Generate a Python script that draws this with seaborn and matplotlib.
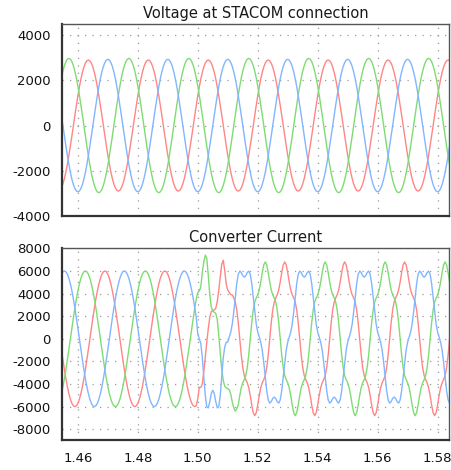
import numpy as np
import pandas as pd
import matplotlib
matplotlib.use("Agg")
import matplotlib.pyplot as plt
import seaborn as sns

t_start = 1.4545
t_step = 0.0005

volt_green = [
    2100, 2403, 2646, 2825, 2933,
    2970, 2933, 2825, 2646, 2403, 2100, 1746, 1348, 918, 465, 0, -465, -918, -1348, -1746, -2100, -2403, -2646, -2825, -2933,
    -2970, -2933, -2825, -2646, -2403, -2100, -1746, -1348, -918, -465, 0, 465, 918, 1348, 1746, 2100, 2403, 2646, 2825, 2933,
    2970, 2933, 2825, 2646, 2403, 2100, 1746, 1348, 918, 465, 0, -465, -918, -1348, -1746, -2100, -2403, -2646, -2825, -2933,
    -2970, -2933, -2825, -2646, -2403, -2100, -1746, -1348, -918, -465, 0, 465, 918, 1348, 1746, 2100, 2403, 2646, 2825, 2933,
    2970, 2933, 2825, 2646, 2403, 2100, 1746, 1348, 918, 465, 0, -465, -918, -1348, -1746, -2100, -2403, -2646, -2825, -2933,
    -2970, -2933, -2825, -2646, -2403, -2100, -1746, -1348, -918, -465, 0, 465, 918, 1348, 1746, 2100, 2403, 2646, 2825, 2933,
    2970, 2933, 2825, 2646, 2403, 2100, 1746, 1348, 918, 465, 0, -465, -918, -1348, -1746, -2100, -2403, -2646, -2825, -2933,
    -2970, -2933, -2825, -2646, -2403, -2100, -1746, -1348, -918, -465, 0, 465, 918, 1348, 1746, 2100, 2403, 2646, 2825, 2933,
    2970, 2933, 2825, 2646, 2403, 2100, 1746, 1348, 918, 465, 0, -465, -918, -1348, -1746, -2100, -2403, -2646, -2825, -2933,
    -2970, -2933, -2825, -2646, -2403, -2100, -1746, -1348, -918, -465, 0, 465, 918, 1348, 1746, 2100, 2403, 2646, 2825, 2933,
    2970, 2933, 2825, 2646, 2403, 2100, 1746, 1348, 918, 465, 0, -465, -918, -1348, -1746, -2100, -2403, -2646, -2825, -2933,
    -2970, -2933, -2825, -2646, -2403, -2100, -1746, -1348, -918, -465, 0, 465, 918, 1348, 1746, 2100, 2403, 2646, 2825, 2933,
    2970, 2933, 2825, 2646, 2403, 2100, 1746, 1348, 918, 465, 0, -465, -918, -1348, -1746,
]

volt_red = [
    -2758, -2584, -2346, -2051, -1705, -1317, -896, -454, 0, 454, 896, 1317, 1705, 2051, 2346, 2584, 2758, 2864,
    2900, 2864, 2758, 2584, 2346, 2051, 1705, 1317, 896, 454, 0, -454, -896, -1317, -1705, -2051, -2346, -2584, -2758, -2864,
    -2900, -2864, -2758, -2584, -2346, -2051, -1705, -1317, -896, -454, 0, 454, 896, 1317, 1705, 2051, 2346, 2584, 2758, 2864,
    2900, 2864, 2758, 2584, 2346, 2051, 1705, 1317, 896, 454, 0, -454, -896, -1317, -1705, -2051, -2346, -2584, -2758, -2864,
    -2900, -2864, -2758, -2584, -2346, -2051, -1705, -1317, -896, -454, 0, 454, 896, 1317, 1705, 2051, 2346, 2584, 2758, 2864,
    2900, 2864, 2758, 2584, 2346, 2051, 1705, 1317, 896, 454, 0, -454, -896, -1317, -1705, -2051, -2346, -2584, -2758, -2864,
    -2900, -2864, -2758, -2584, -2346, -2051, -1705, -1317, -896, -454, 0, 454, 896, 1317, 1705, 2051, 2346, 2584, 2758, 2864,
    2900, 2864, 2758, 2584, 2346, 2051, 1705, 1317, 896, 454, 0, -454, -896, -1317, -1705, -2051, -2346, -2584, -2758, -2864,
    -2900, -2864, -2758, -2584, -2346, -2051, -1705, -1317, -896, -454, 0, 454, 896, 1317, 1705, 2051, 2346, 2584, 2758, 2864,
    2900, 2864, 2758, 2584, 2346, 2051, 1705, 1317, 896, 454, 0, -454, -896, -1317, -1705, -2051, -2346, -2584, -2758, -2864,
    -2900, -2864, -2758, -2584, -2346, -2051, -1705, -1317, -896, -454, 0, 454, 896, 1317, 1705, 2051, 2346, 2584, 2758, 2864,
    2900, 2864, 2758, 2584, 2346, 2051, 1705, 1317, 896, 454, 0, -454, -896, -1317, -1705, -2051, -2346, -2584, -2758, -2864,
    -2900, -2864, -2758, -2584, -2346, -2051, -1705, -1317, -896, -454, 0, 454, 896, 1317, 1705, 2051, 2346, 2584, 2758, 2864,
    2900, 2864,
]

volt_blue = [
    458, 0, -458, -905, -1330, -1722, -2072, -2370, -2611, -2787, -2894,
    -2930, -2894, -2787, -2611, -2370, -2072, -1722, -1330, -905, -458, 0, 458, 905, 1330, 1722, 2072, 2370, 2611, 2787, 2894,
    2930, 2894, 2787, 2611, 2370, 2072, 1722, 1330, 905, 458, 0, -458, -905, -1330, -1722, -2072, -2370, -2611, -2787, -2894,
    -2930, -2894, -2787, -2611, -2370, -2072, -1722, -1330, -905, -458, 0, 458, 905, 1330, 1722, 2072, 2370, 2611, 2787, 2894,
    2930, 2894, 2787, 2611, 2370, 2072, 1722, 1330, 905, 458, 0, -458, -905, -1330, -1722, -2072, -2370, -2611, -2787, -2894,
    -2930, -2894, -2787, -2611, -2370, -2072, -1722, -1330, -905, -458, 0, 458, 905, 1330, 1722, 2072, 2370, 2611, 2787, 2894,
    2930, 2894, 2787, 2611, 2370, 2072, 1722, 1330, 905, 458, 0, -458, -905, -1330, -1722, -2072, -2370, -2611, -2787, -2894,
    -2930, -2894, -2787, -2611, -2370, -2072, -1722, -1330, -905, -458, 0, 458, 905, 1330, 1722, 2072, 2370, 2611, 2787, 2894,
    2930, 2894, 2787, 2611, 2370, 2072, 1722, 1330, 905, 458, 0, -458, -905, -1330, -1722, -2072, -2370, -2611, -2787, -2894,
    -2930, -2894, -2787, -2611, -2370, -2072, -1722, -1330, -905, -458, 0, 458, 905, 1330, 1722, 2072, 2370, 2611, 2787, 2894,
    2930, 2894, 2787, 2611, 2370, 2072, 1722, 1330, 905, 458, 0, -458, -905, -1330, -1722, -2072, -2370, -2611, -2787, -2894,
    -2930, -2894, -2787, -2611, -2370, -2072, -1722, -1330, -905, -458, 0, 458, 905, 1330, 1722, 2072, 2370, 2611, 2787, 2894,
    2930, 2894, 2787, 2611, 2370, 2072, 1722, 1330, 905, 458, 0, -458, -905, -1330, -1722, -2072, -2370, -2611, -2787, -2894,
    -2930, -2894, -2787, -2611, -2370, -2072, -1722, -1330, -905,
]

curr_green = [
    -4854, -4243, -3527, -2724, -1854, -939, 0, 939, 1854, 2724, 3527, 4243, 4854, 5346, 5706, 5926,
    6000, 5926, 5706, 5346, 4854, 4243, 3527, 2724, 1854, 939, 0, -939, -1854, -2724, -3527, -4243, -4854, -5346, -5706, -5926,
    -6000, -5926, -5706, -5346, -4854, -4243, -3527, -2724, -1854, -939, 0, 939, 1854, 2724, 3527, 4243, 4854, 5346, 5706, 5926,
    6000, 5926, 5706, 5346, 4854, 4243, 3527, 2724, 1854, 939, 0, -939, -1854, -2724, -3527, -4243, -4854, -5346, -5706, -5926,
    -6000, -5926, -5706, -5346, -4854, -4243, -3527, -2724, -1854, -939, 0, 939, 1854, 2724, 3527,
    4084, 4225, 4596, 5849, 6800, 7400, 7100, 5600, 3900, 2800, 2450, 2350, 2250, 1700, 300, -1300, -2700, -3700, -4200, -4350,
    -4400, -4500, -4900, -5600, -6100, -6400, -6200, -5849, -5020, -4325, -3889, -3615, -3252, -2550, -1422, 0, 1422, 2550, 3252, 3615, 3889, 4325, 5020, 5849, 6534,
    6800, 6534, 5849, 5020, 4325, 3889, 3615, 3252, 2550, 1422, 0, -1422, -2550, -3252, -3615, -3889, -4325, -5020, -5849, -6534,
    -6800, -6534, -5849, -5020, -4325, -3889, -3615, -3252, -2550, -1422, 0, 1422, 2550, 3252, 3615, 3889, 4325, 5020, 5849, 6534,
    6800, 6534, 5849, 5020, 4325, 3889, 3615, 3252, 2550, 1422, 0, -1422, -2550, -3252, -3615, -3889, -4325, -5020, -5849, -6534,
    -6800, -6534, -5849, -5020, -4325, -3889, -3615, -3252, -2550, -1422, 0, 1422, 2550, 3252, 3615, 3889, 4325, 5020, 5849, 6534,
    6800, 6534, 5849, 5020, 4325, 3889, 3615, 3252, 2550, 1422, 0, -1422, -2550, -3252, -3615, -3889, -4325, -5020, -5849, -6534,
    -6800, -6534, -5849, -5020, -4325, -3889, -3615, -3252, -2550, -1422, 0, 1422, 2550, 3252, 3615, 3889, 4325, 5020, 5849, 6534,
    6800, 6534, 5849, 5020,
]

curr_red = [
    -939, -1854, -2724, -3527, -4243, -4854, -5346, -5706, -5926, -6000, -5926, -5706, -5346, -4854, -4243, -3527, -2724, -1854, -939,
    0, 939, 1854, 2724, 3527, 4243, 4854, 5346, 5706, 5926,
    6000, 5926, 5706, 5346, 4854, 4243, 3527, 2724, 1854, 939, 0, -939, -1854, -2724, -3527, -4243, -4854, -5346, -5706, -5926,
    -6000, -5926, -5706, -5346, -4854, -4243, -3527, -2724, -1854, -939, 0, 939, 1854, 2724, 3527, 4243, 4854, 5346, 5706, 5926,
    6000, 5926, 5706, 5346, 4854, 4243, 3527, 2724, 1854, 939, 0, -939, -1854, -2724, -3527, -4243, -4854, -5346, -5706, -5926,
    -6000, -5926,
    -5300, -4300, -4300, -4000, -2900, -1600, -300, 900, 1900, 2400, 2500, 2550, 2700, 3300, 4300, 5500, 6600, 6950, 6000, 4800,
    4300, 4100, 3900, 3889, 3615, 3252, 2550, 1422, 0, -1422, -2550, -3252, -3615, -3889, -4325, -5020, -5849, -6534,
    -6800, -6534, -5849, -5020, -4325, -3889, -3615, -3252, -2550, -1422, 0, 1422, 2550, 3252, 3615, 3889, 4325, 5020, 5849, 6534,
    6800, 6534, 5849, 5020, 4325, 3889, 3615, 3252, 2550, 1422, 0, -1422, -2550, -3252, -3615, -3889, -4325, -5020, -5849, -6534,
    -6800, -6534, -5849, -5020, -4325, -3889, -3615, -3252, -2550, -1422, 0, 1422, 2550, 3252, 3615, 3889, 4325, 5020, 5849, 6534,
    6800, 6534, 5849, 5020, 4325, 3889, 3615, 3252, 2550, 1422, 0, -1422, -2550, -3252, -3615, -3889, -4325, -5020, -5849, -6534,
    -6800, -6534, -5849, -5020, -4325, -3889, -3615, -3252, -2550, -1422, 0, 1422, 2550, 3252, 3615, 3889, 4325, 5020, 5849, 6534,
    6800, 6534, 5849, 5020, 4325, 3889, 3615, 3252, 2550, 1422, 0, -1422, -2550, -3252, -3615, -3889, -4325, -5020, -5849, -6534,
    -6800, -6534, -5849, -5020, -4325, -3889, -3615, -3252, -2550, -1422, 0,
]

curr_blue = [
    5706, 5926,
    6000, 5926, 5706, 5346, 4854, 4243, 3527, 2724, 1854, 939, 0, -939, -1854, -2724, -3527, -4243, -4854, -5346, -5706, -5926,
    -6000, -5926, -5706, -5346, -4854, -4243, -3527, -2724, -1854, -939, 0, 939, 1854, 2724, 3527, 4243, 4854, 5346, 5706, 5926,
    6000, 5926, 5706, 5346, 4854, 4243, 3527, 2724, 1854, 939, 0, -939, -1854, -2724, -3527, -4243, -4854, -5346, -5706, -5926,
    -6000, -5926, -5706, -5346, -4854, -4243, -3527, -2724, -1854, -939, 0, 939, 1854, 2724, 3527, 4243, 4854, 5346, 5706, 5926,
    6000, 5926, 5706, 5346, 4854, 4243, 3527, 2724, 1854,
    400, 0, -400, -1655, -3377, -5012, -6004, -6115, -5556, -4857, -4550, -4857, -5556, -6115, -6004, -5012, -3377, -1655, -700, -300,
    -294, 150, 594, 1304, 2379, 3677, 4888, 5704, 5991, 5856, 5581,
    5450, 5581, 5856, 5991, 5704, 4888, 3677, 2379, 1304, 594, 150, -294, -1004, -2079, -3377, -4588, -5404, -5691, -5556, -5281,
    -5150, -5281, -5556, -5691, -5404, -4588, -3377, -2079, -1004, -294, 150, 594, 1304, 2379, 3677, 4888, 5704, 5991, 5856, 5581,
    5450, 5581, 5856, 5991, 5704, 4888, 3677, 2379, 1304, 594, 150, -294, -1004, -2079, -3377, -4588, -5404, -5691, -5556, -5281,
    -5150, -5281, -5556, -5691, -5404, -4588, -3377, -2079, -1004, -294, 150, 594, 1304, 2379, 3677, 4888, 5704, 5991, 5856, 5581,
    5450, 5581, 5856, 5991, 5704, 4888, 3677, 2379, 1304, 594, 150, -294, -1004, -2079, -3377, -4588, -5404, -5691, -5556, -5281,
    -5150, -5281, -5556, -5691, -5404, -4588, -3377, -2079, -1004, -294, 150, 594, 1304, 2379, 3677, 4888, 5704, 5991, 5856, 5581,
    5450, 5581, 5856, 5991, 5704, 4888, 3677, 2379, 1304, 594, 150, -294, -1004, -2079, -3377, -4588, -5404, -5691,
]

titles = ["Voltage at STACOM connection", "Converter Current"]
x_ticks = [1.46, 1.48, 1.50, 1.52, 1.54, 1.56, 1.58]
x_tick_labels = ["1.46", "1.48", "1.50", "1.52", "1.54", "1.56", "1.58"]
volt_ticks = [-4000, -2000, 0, 2000, 4000]
curr_ticks = [-8000, -6000, -4000, -2000, 0, 2000, 4000, 6000, 8000]
phase_names = ["red", "green", "blue"]
phase_colors = {"red": "#ff8686", "green": "#7fdc72", "blue": "#82b6ff"}

# ---------------- build tables ----------------
lens = {name: len(arr) for name, arr in [("vg", volt_green), ("vr", volt_red), ("vb", volt_blue),
                                         ("cg", curr_green), ("cr", curr_red), ("cb", curr_blue)]}
assert len(set(lens.values())) == 1, lens

n = len(volt_green)
time = t_start + t_step * np.arange(n)

volt_df = pd.concat([
    pd.DataFrame({"time": time, "value": volt_red, "phase": "red"}),
    pd.DataFrame({"time": time, "value": volt_green, "phase": "green"}),
    pd.DataFrame({"time": time, "value": volt_blue, "phase": "blue"}),
], ignore_index=True)
curr_df = pd.concat([
    pd.DataFrame({"time": time, "value": curr_red, "phase": "red"}),
    pd.DataFrame({"time": time, "value": curr_green, "phase": "green"}),
    pd.DataFrame({"time": time, "value": curr_blue, "phase": "blue"}),
], ignore_index=True)

# ---------------- drawing ----------------
sns.set_theme(style="white")
plt.rcParams["font.family"] = ["DejaVu Sans"]

W, H = 452, 470
fig = plt.figure(figsize=(W / 100, H / 100), dpi=100)
fig.patch.set_facecolor("white")
ax1 = fig.add_axes([62 / W, 1 - 216 / H, 387 / W, 192 / H])
ax2 = fig.add_axes([62 / W, 1 - 440 / H, 387 / W, 192 / H])

for ax, df, yl, yt, title in [
    (ax1, volt_df, (-4000, 4490), volt_ticks, titles[0]),
    (ax2, curr_df, (-8950, 8030), curr_ticks, titles[1]),
]:
    sns.lineplot(data=df, x="time", y="value", hue="phase", hue_order=phase_names,
                 palette=phase_colors, estimator=None, sort=False, legend=False,
                 linewidth=1.0, ax=ax)
    ax.set_xlim(1.4547, 1.5838)
    ax.set_ylim(*yl)
    ax.set_yticks(yt)
    ax.set_yticklabels([str(v) for v in yt])
    ax.set_xticks(x_ticks)
    ax.set_xlabel("")
    ax.set_ylabel("")
    ax.set_facecolor("white")
    ax.grid(True, color="#9a9a9a", linestyle=(0, (1, 5)), linewidth=0.9)
    ax.set_axisbelow(True)
    ax.set_title(title, fontsize=10.5, color="#1a1a1a", pad=4)
    ax.tick_params(axis="y", length=0, pad=8, labelsize=9.5, labelcolor="#111111")
    for side in ["left", "bottom"]:
        ax.spines[side].set_color("#333333")
        ax.spines[side].set_linewidth(1.6)
    for side in ["top", "right"]:
        ax.spines[side].set_color("#555555")
        ax.spines[side].set_linewidth(1.0)

ax1.tick_params(axis="x", length=0, labelbottom=False)
ax2.set_xticklabels(x_tick_labels)
ax2.tick_params(axis="x", length=5, width=1.2, color="#333333", pad=4,
                labelsize=9.5, labelcolor="#111111")

fig.savefig("out.png", dpi=100, facecolor="white")
